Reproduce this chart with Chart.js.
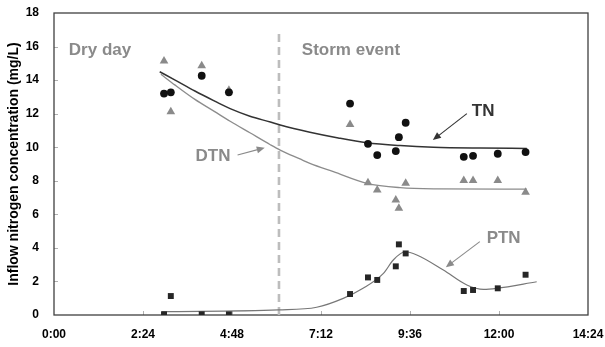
<!DOCTYPE html>
<html>
<head>
<meta charset="utf-8">
<title>Inflow nitrogen concentration</title>
<script src="https://cdn.jsdelivr.net/npm/chart.js@4/dist/chart.umd.min.js"></script>
<style>
    html, body { margin: 0; padding: 0; background: #fff; }
    #wrap { width: 605px; height: 347px; }
</style>
</head>
<body>
<div id="wrap"><canvas id="nitrogenChart" width="605" height="347"></canvas></div>
<script>
// Sampling times (minutes after 0:00) and measured concentrations (mg/L)
const sampleTimes = [178, 189, 239, 283, 479, 508, 523, 553, 558, 569, 663, 678, 718, 763];
const tnValues  = [13.2, 13.27, 14.26, 13.27, 12.6, 10.2, 9.53, 9.77, 10.6, 11.46, 9.43, 9.49, 9.61, 9.71];
const dtnValues = [15.14, 12.12, 14.86, 13.4, 11.36, 7.88, 7.45, 6.85, 6.36, 7.85, 8.02, 8.02, 8.02, 7.31];
const ptnValues = [0.04, 1.13, 0.04, 0.04, 1.25, 2.24, 2.09, 2.9, 4.21, 3.67, 1.43, 1.49, 1.59, 2.4];

// Fitted trend curves
const tnFitTimes  = [171, 196, 228, 260, 285, 317, 350, 366, 414, 460, 506, 560, 614, 690, 765];
const tnFitValues = [14.5, 14.0, 13.35, 12.75, 12.3, 11.85, 11.5, 11.32, 10.89, 10.55, 10.27, 10.1, 10.0, 9.95, 9.93];
const dtnFitTimes  = [173, 196, 228, 260, 285, 317, 350, 366, 398, 414, 452, 506, 560, 620, 765];
const dtnFitValues = [14.35, 13.7, 12.85, 12.12, 11.55, 10.86, 10.15, 9.83, 9.3, 9.04, 8.54, 7.85, 7.59, 7.52, 7.5];
const ptnFitTimes  = [174, 363, 425, 468, 500, 533, 549, 568, 587, 630, 668, 695, 716, 781];
const ptnFitValues = [0.2, 0.3, 0.46, 0.99, 1.59, 2.48, 3.28, 3.77, 3.58, 2.68, 1.79, 1.53, 1.59, 1.98];

// Start of the storm event (minutes) and axis ticks
const stormStart = 364;
const timeTicks = [0, 144, 288, 432, 576, 720, 864];
const concTicks = [0, 2, 4, 6, 8, 10, 12, 14, 16, 18];

const FONT = 'Arial, "Liberation Sans", sans-serif';
const GREY_TEXT = '#8a8a8a';

function toPoints(xs, ys) {
    return xs.map((x, i) => ({ x: x, y: ys[i] }));
}

function formatTime(minutes) {
    const h = Math.floor(minutes / 60);
    const m = Math.round(minutes % 60);
    return h + ':' + String(m).padStart(2, '0');
}

// Frame, inward tick marks and the text/arrow call-outs
const decorations = {
    id: 'decorations',
    beforeDatasetsDraw(chart) {
        const { ctx, chartArea: a, scales } = chart;
        ctx.save();
        ctx.strokeStyle = '#b0b0b0';
        ctx.lineWidth = 1;
        timeTicks.slice(1, -1).forEach(t => {
            const px = Math.round(scales.x.getPixelForValue(t)) + 0.5;
            ctx.beginPath();
            ctx.moveTo(px, a.bottom);
            ctx.lineTo(px, a.bottom - 4);
            ctx.stroke();
        });
        concTicks.slice(1, -1).forEach(v => {
            const py = Math.round(scales.y.getPixelForValue(v)) + 0.5;
            ctx.beginPath();
            ctx.moveTo(a.left, py);
            ctx.lineTo(a.left + 4, py);
            ctx.stroke();
        });
        ctx.strokeStyle = '#404040';
        ctx.lineWidth = 1.3;
        ctx.strokeRect(a.left, a.top, a.right - a.left, a.bottom - a.top);
        ctx.restore();
    },
    afterDatasetsDraw(chart) {
        const { ctx, scales } = chart;
        const px = v => scales.x.getPixelForValue(v);
        const py = v => scales.y.getPixelForValue(v);

        const labels = [
            { text: 'Dry day', x: 24, y: 15.8, color: GREY_TEXT },
            { text: 'Storm event', x: 401, y: 15.8, color: GREY_TEXT },
            { text: 'TN', x: 676, y: 12.17, color: '#333333' },
            { text: 'DTN', x: 229, y: 9.43, color: GREY_TEXT },
            { text: 'PTN', x: 700, y: 4.57, color: GREY_TEXT }
        ];
        const arrows = [
            { from: [668, 12.0], to: [613, 10.43], color: '#333333' },
            { from: [297, 9.54], to: [341, 9.97], color: '#8a8a8a' },
            { from: [689, 4.37], to: [634, 2.85], color: '#8a8a8a' }
        ];

        ctx.save();
        ctx.font = 'bold 17px ' + FONT;
        ctx.textAlign = 'left';
        ctx.textBaseline = 'middle';
        labels.forEach(l => {
            ctx.fillStyle = l.color;
            ctx.fillText(l.text, px(l.x), py(l.y));
        });

        arrows.forEach(arr => {
            const x1 = px(arr.from[0]), y1 = py(arr.from[1]);
            const x2 = px(arr.to[0]), y2 = py(arr.to[1]);
            const ang = Math.atan2(y2 - y1, x2 - x1);
            const head = 8, half = 3.5;
            ctx.strokeStyle = arr.color;
            ctx.fillStyle = arr.color;
            ctx.lineWidth = 1.1;
            ctx.beginPath();
            ctx.moveTo(x1, y1);
            ctx.lineTo(x2 - Math.cos(ang) * head * 0.8, y2 - Math.sin(ang) * head * 0.8);
            ctx.stroke();
            ctx.beginPath();
            ctx.moveTo(x2, y2);
            ctx.lineTo(x2 - Math.cos(ang) * head - Math.sin(ang) * half,
                       y2 - Math.sin(ang) * head + Math.cos(ang) * half);
            ctx.lineTo(x2 - Math.cos(ang) * head + Math.sin(ang) * half,
                       y2 - Math.sin(ang) * head - Math.cos(ang) * half);
            ctx.closePath();
            ctx.fill();
        });
        ctx.restore();
    }
};

const fitLine = (label, xs, ys, color, width) => ({
    label: label,
    data: toPoints(xs, ys),
    showLine: true,
    borderColor: color,
    borderWidth: width,
    pointRadius: 0,
    cubicInterpolationMode: 'monotone',
    order: 2
});

new Chart(document.getElementById('nitrogenChart'), {
    type: 'scatter',
    data: {
        datasets: [
            {
                label: 'TN',
                data: toPoints(sampleTimes, tnValues),
                pointStyle: 'circle',
                pointRadius: 3.9,
                backgroundColor: '#111111',
                borderColor: '#111111',
                borderWidth: 0,
                order: 1
            },
            {
                label: 'DTN',
                data: toPoints(sampleTimes, dtnValues),
                pointStyle: 'triangle',
                pointRadius: 5,
                backgroundColor: '#8a8a8a',
                borderColor: '#8a8a8a',
                borderWidth: 0,
                order: 1
            },
            {
                label: 'PTN',
                data: toPoints(sampleTimes, ptnValues),
                pointStyle: 'rect',
                pointRadius: 4.2,
                backgroundColor: '#262626',
                borderColor: '#262626',
                borderWidth: 0,
                order: 1
            },
            fitLine('TN fit', tnFitTimes, tnFitValues, '#333333', 1.5),
            fitLine('DTN fit', dtnFitTimes, dtnFitValues, '#8c8c8c', 1.3),
            fitLine('PTN fit', ptnFitTimes, ptnFitValues, '#777777', 1.2),
            {
                label: 'Storm start',
                data: [{ x: stormStart, y: 0 }, { x: stormStart, y: 17 }],
                showLine: true,
                borderColor: '#bdbdbd',
                borderWidth: 2.6,
                borderDash: [8, 5],
                pointRadius: 0,
                order: 3
            }
        ]
    },
    options: {
        responsive: false,
        animation: false,
        devicePixelRatio: 1,
        layout: { padding: { top: 13, right: 17, left: 0, bottom: 0 } },
        plugins: {
            legend: { display: false },
            tooltip: { enabled: false }
        },
        elements: { point: { hoverRadius: 0 } },
        scales: {
            x: {
                type: 'linear',
                min: 0,
                max: 864,
                afterBuildTicks: scale => { scale.ticks = timeTicks.map(v => ({ value: v })); },
                afterFit: scale => {
                    scale.height = 32;
                    scale.paddingLeft = 0;
                    scale.paddingRight = 0;
                },
                grid: { display: false, drawTicks: false },
                border: { display: false },
                ticks: {
                    callback: v => formatTime(v),
                    color: '#000',
                    font: { family: FONT, size: 12, weight: 'bold' },
                    padding: 12,
                    maxRotation: 0
                }
            },
            y: {
                min: 0,
                max: 18,
                afterBuildTicks: scale => { scale.ticks = concTicks.map(v => ({ value: v })); },
                afterFit: scale => {
                    scale.width = 54;
                    scale.paddingTop = 0;
                    scale.paddingBottom = 0;
                },
                grid: { display: false, drawTicks: false },
                border: { display: false },
                ticks: {
                    color: '#000',
                    font: { family: FONT, size: 12, weight: 'bold' },
                    padding: 15
                },
                title: {
                    display: true,
                    text: 'Inflow nitrogen concentration (mg/L)',
                    color: '#000',
                    font: { family: FONT, size: 14, weight: 'bold', lineHeight: 1.2 },
                    padding: { top: 6, bottom: 0 }
                }
            }
        }
    },
    plugins: [decorations]
});
</script>
</body>
</html>
